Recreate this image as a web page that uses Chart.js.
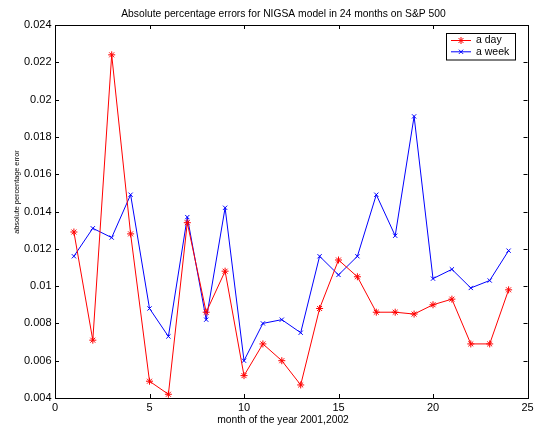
<!DOCTYPE html>
<html>
<head>
<meta charset="utf-8">
<title>NIGSA errors</title>
<script src="https://cdn.jsdelivr.net/npm/chart.js@4.4.1/dist/chart.umd.min.js"></script>
<style>
  html, body { margin: 0; padding: 0; background: #fff; }
  #wrap { width: 540px; height: 428px; }
</style>
</head>
<body>
<div id="wrap"><canvas id="erros" width="540" height="428"></canvas></div>
<script>
// Meses (1..24) e erros percentuais absolutos
const meses = [1, 2, 3, 4, 5, 6, 7, 8, 9, 10, 11, 12, 13, 14, 15, 16, 17, 18, 19, 20, 21, 22, 23, 24];
const erroDia = [0.0129, 0.0071, 0.0224, 0.0128, 0.0049, 0.0042, 0.0134, 0.0086, 0.0108, 0.0052, 0.0069, 0.0060,
                 0.0047, 0.0088, 0.0114, 0.0105, 0.0086, 0.0086, 0.0085, 0.0090, 0.0093, 0.0069, 0.0069, 0.0098];
const erroSemana = [0.0116, 0.0131, 0.0126, 0.0149, 0.0088, 0.0073, 0.0137, 0.0082, 0.0142, 0.0060, 0.0080, 0.0082,
                    0.0075, 0.0116, 0.0106, 0.0116, 0.0149, 0.0127, 0.0191, 0.0104, 0.0109, 0.0099, 0.0103, 0.0119];
const xTicks = [0, 5, 10, 15, 20, 25];
const yTicks = [0.004, 0.006, 0.008, 0.01, 0.012, 0.014, 0.016, 0.018, 0.02, 0.022, 0.024];

const titulo = 'Absolute percentage errors for NIGSA model in 24 months on S&P 500';
const rotuloX = 'month of the year 2001,2002';
const rotuloY = 'absolute percentage error';

const FONTE = "'Liberation Sans', Arial, Helvetica, sans-serif";

// caixa do eixo com marcas para dentro (estilo matlab) + textos
const moldura = {
    id: 'moldura',
    afterDatasetsDraw(chart) {
        const ctx = chart.ctx;
        const a = chart.chartArea;
        const sx = chart.scales.x, sy = chart.scales.y;
        const tam = 4;
        ctx.save();
        ctx.strokeStyle = '#000';
        ctx.lineWidth = 1;
        ctx.beginPath();
        xTicks.forEach(v => {
            const px = Math.round(sx.getPixelForValue(v)) + 0.5;
            ctx.moveTo(px, a.bottom); ctx.lineTo(px, a.bottom - tam);
            ctx.moveTo(px, a.top); ctx.lineTo(px, a.top + tam);
        });
        yTicks.forEach(v => {
            const py = Math.round(sy.getPixelForValue(v)) + 0.5;
            ctx.moveTo(a.left, py); ctx.lineTo(a.left + tam, py);
            ctx.moveTo(a.right, py); ctx.lineTo(a.right - tam, py);
        });
        ctx.stroke();
        ctx.strokeRect(Math.round(a.left) + 0.5, Math.round(a.top) + 0.5,
            Math.round(a.right - a.left), Math.round(a.bottom - a.top));

        ctx.fillStyle = '#000';
        ctx.textAlign = 'center';
        ctx.textBaseline = 'middle';
        ctx.font = '10.3px ' + FONTE;
        ctx.fillText(titulo, 283.5, 14);
        ctx.fillText(rotuloX, 283, 420.5);

        // rótulo do eixo y (menor, como no original)
        ctx.font = '7.3px ' + FONTE;
        ctx.translate(16.5, 192);
        ctx.rotate(-Math.PI / 2);
        ctx.fillText(rotuloY, 0, 0);
        ctx.restore();
    }
};

// legenda no canto superior direito
const legendaBox = {
    id: 'legendaBox',
    afterDraw(chart) {
        const ctx = chart.ctx;
        const x0 = 446, y0 = 33, w = 69, h = 26.5;
        ctx.save();
        ctx.fillStyle = '#fff';
        ctx.fillRect(x0, y0, w, h);
        ctx.strokeStyle = '#000';
        ctx.lineWidth = 1;
        ctx.strokeRect(x0 + 0.5, y0 + 0.5, w, h);
        chart.data.datasets.forEach((ds, i) => {
            const yy = y0 + 7.5 + i * 11.3;
            ctx.strokeStyle = ds.borderColor;
            ctx.lineWidth = 1;
            ctx.beginPath();
            ctx.moveTo(451, yy); ctx.lineTo(471, yy);
            ctx.stroke();
            if (Chart.helpers && Chart.helpers.drawPoint) {
                Chart.helpers.drawPoint(ctx, {
                    pointStyle: ds.pointStyle, radius: ds.pointRadius, rotation: 0, borderWidth: 1
                }, 461, yy);
            }
            ctx.fillStyle = '#000';
            ctx.font = '10.5px ' + FONTE;
            ctx.textAlign = 'left';
            ctx.textBaseline = 'middle';
            ctx.fillText(ds.label, 476, yy);
        });
        ctx.restore();
    }
};

const ctx = document.getElementById('erros').getContext('2d');
new Chart(ctx, {
    type: 'line',
    data: {
        datasets: [
            {
                label: 'a day',
                data: meses.map((m, i) => ({ x: m, y: erroDia[i] })),
                borderColor: '#ff0000',
                backgroundColor: '#ff0000',
                borderWidth: 1,
                pointStyle: 'star',
                pointRadius: 3.5,
                pointBorderWidth: 1,
                tension: 0,
                fill: false
            },
            {
                label: 'a week',
                data: meses.map((m, i) => ({ x: m, y: erroSemana[i] })),
                borderColor: '#0000ff',
                backgroundColor: '#0000ff',
                borderWidth: 1,
                pointStyle: 'crossRot',
                pointRadius: 3,
                pointBorderWidth: 1,
                tension: 0,
                fill: false
            }
        ]
    },
    options: {
        responsive: false,
        animation: false,
        devicePixelRatio: 1,
        layout: { padding: { left: 0, right: 12.5, top: 25, bottom: 0 } },
        plugins: {
            legend: { display: false },
            tooltip: { enabled: false },
            title: { display: false }
        },
        scales: {
            x: {
                type: 'linear',
                min: 0,
                max: 25,
                afterBuildTicks: s => { s.ticks = xTicks.map(v => ({ value: v })); },
                afterFit: s => { s.height = 30; },
                grid: { display: false, drawTicks: false },
                border: { display: false },
                ticks: { color: '#000', font: { family: FONTE, size: 11 }, padding: 3.5, maxRotation: 0, autoSkip: false }
            },
            y: {
                min: 0.004,
                max: 0.024,
                afterBuildTicks: s => { s.ticks = yTicks.map(v => ({ value: v })); },
                afterFit: s => { s.width = 55; },
                grid: { display: false, drawTicks: false },
                border: { display: false },
                ticks: {
                    color: '#000',
                    font: { family: FONTE, size: 11 },
                    padding: 3.5,
                    autoSkip: false,
                    callback: v => String(parseFloat(v.toFixed(3)))
                }
            }
        }
    },
    plugins: [moldura, legendaBox]
});
</script>
</body>
</html>
